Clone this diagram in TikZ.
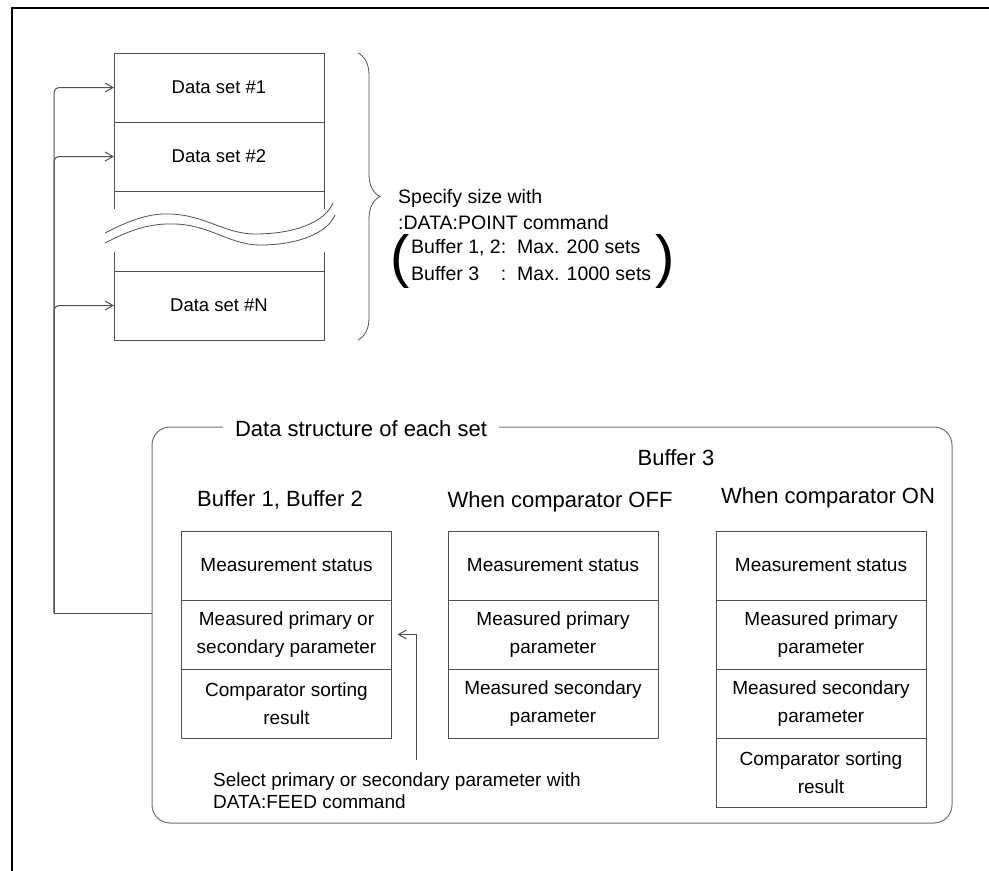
\documentclass[tikz,border=0pt]{standalone}
\usepackage{fontspec}
\setmainfont{Liberation Sans}
\usetikzlibrary{positioning,arrows.meta,decorations.pathreplacing}
\definecolor{linegray}{HTML}{505050}
\definecolor{framegray}{HTML}{707070}
\tikzstyle{setbox}=[rectangle, draw=linegray, line width=1pt, outer sep=0pt, minimum width=210pt, minimum height=69pt, font=\fontsize{18.5}{22}\selectfont]
\tikzstyle{cellbox}=[rectangle, draw=linegray, line width=1pt, outer sep=0pt, minimum width=210pt, minimum height=69pt, align=center, font=\fontsize{19}{28}\selectfont]
\tikzstyle{headlabel}=[font=\fontsize{22}{26}\selectfont]
\tikzstyle{notelabel}=[anchor=west, align=left, inner sep=0pt, font=\fontsize{19.5}{26}\selectfont]
\tikzstyle{parlabel}=[inner sep=0pt, font=\fontsize{58}{58}\selectfont]
\tikzstyle{feedline}=[draw=linegray, line width=1pt]
\tikzstyle{arrowline}=[feedline, -{Straight Barb[length=8pt,width=9pt]}]

\begin{document}
\begin{tikzpicture}[x=1pt,y=-1pt,node distance=0pt]
\useasboundingbox (0,0) rectangle (989,871);
\draw[line width=2.5pt] (12,875) -- (12,8) -- (995,8);
%Data sets
\node[setbox]      (ds1)    at (219,87.5)            {Data set \#1};
\node[setbox]      (ds2)    [below=of ds1]          {Data set \#2};
\node[setbox]      (dsN)    at (219,305.5)           {Data set \#N};
\draw[feedline] (ds2.south west) -- ++(0,18);
\draw[feedline] (ds2.south east) -- ++(0,18);
\draw[feedline] (dsN.north west) -- ++(0,-19);
\draw[feedline] (dsN.north east) -- ++(0,-19);
\draw[feedline, line width=0.8pt] (105,233) .. controls (130,220) and (150,213) .. (170,214) .. controls (205,215) and (225,234) .. (255,234) .. controls (295,234) and (325,222) .. (333,203);
\draw[feedline, line width=0.8pt] (105,243) .. controls (130,230) and (150,223) .. (175,224) .. controls (210,225) and (230,245) .. (260,245) .. controls (300,245) and (328,232) .. (335,215);
\draw[feedline, line width=0.8pt, decorate, decoration={brace, amplitude=22pt}] ([xshift=34pt]ds1.north east) -- ([xshift=34pt]dsN.south east);
\node[notelabel]   (sizenote) at (398,210)  {Specify size with\\:DATA:POINT command};
\node[anchor=west, inner sep=0pt, font=\fontsize{19.5}{27}\selectfont] (maxnote) at (411,261.5)
  {\begin{tabular}{@{}l@{}l@{\hspace{11pt}}l@{}}Buffer 1, 2&:&Max. 200 sets\\Buffer 3&:&Max. 1000 sets\end{tabular}};
\node[parlabel, anchor=east]  (lpar) at ([xshift=-1pt]maxnote.west) {(};
\node[parlabel, anchor=west]  (rpar) at ([xshift=4pt]maxnote.east)  {)};
%Structure of each set
\node[rectangle, draw=framegray, line width=1pt, rounded corners=18pt, minimum width=800pt, minimum height=396pt] (struct) at (552,625) {};
\node[headlabel, fill=white, inner xsep=12pt, inner ysep=0pt] (title) at (361,429) {Data structure of each set};
\node[headlabel]   (buf3)   at (676,458)            {Buffer 3};
\node[headlabel]   (b12h)   at (280,500)            {Buffer 1, Buffer 2};
\node[headlabel]   (offh)   at (560,502)            {When comparator OFF};
\node[headlabel]   (onh)    at (828,498)            {When comparator ON};
\node[cellbox]     (b12s)   at (286.5,565.5)        {Measurement status};
\node[cellbox]     (b12m)   [below=of b12s]         {Measured primary or\\secondary parameter};
\node[cellbox]     (b12c)   [below=of b12m]         {Comparator sorting\\result};
\node[cellbox]     (offs)   at (553,565.5)          {Measurement status};
\node[cellbox]     (offp)   [below=of offs]         {Measured primary\\parameter};
\node[cellbox]     (offq)   [below=of offp]         {Measured secondary\\parameter};
\node[cellbox]     (ons)    at (821,565.5)          {Measurement status};
\node[cellbox]     (onp)    [below=of ons]          {Measured primary\\parameter};
\node[cellbox]     (onq)    [below=of onp]          {Measured secondary\\parameter};
\node[cellbox]     (onc)    [below=of onq]          {Comparator sorting\\result};
\node[notelabel, font=\fontsize{19}{22}\selectfont] (selnote) at (213,791) {Select primary or secondary parameter with\\DATA:FEED command};
%Lines
\coordinate (fbturn) at (54,613);
\coordinate (selfoot) at (416,760);
\draw[feedline] (struct.west |- fbturn) -- (fbturn);
\draw[arrowline, rounded corners=5pt] (fbturn) |- (ds1.west);
\draw[arrowline, rounded corners=5pt] (fbturn) |- (ds2.west);
\draw[arrowline, rounded corners=5pt] (fbturn) |- (dsN.west);
\draw[arrowline] (selfoot) |- ([xshift=6pt]b12m.east);
\end{tikzpicture}
\end{document}
